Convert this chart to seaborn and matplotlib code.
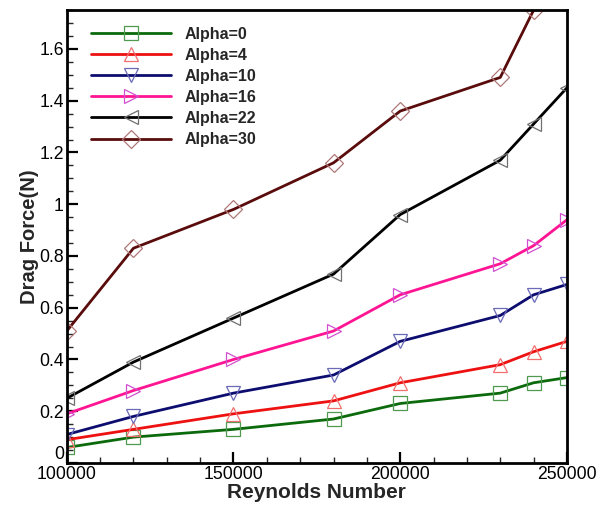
import numpy as np
import pandas as pd
import matplotlib
matplotlib.use("Agg")
import matplotlib.pyplot as plt
from matplotlib.lines import Line2D
from matplotlib.ticker import MultipleLocator, FormatStrFormatter
import seaborn as sns

reynolds = [100000, 120000, 150000, 180000, 200000, 230000, 240000, 250000]
alpha0 = [0.06, 0.10, 0.13, 0.17, 0.23, 0.27, 0.31, 0.33]
alpha4 = [0.09, 0.13, 0.19, 0.24, 0.31, 0.38, 0.43, 0.47]
alpha10 = [0.11, 0.18, 0.27, 0.34, 0.47, 0.57, 0.65, 0.69]
alpha16 = [0.19, 0.28, 0.40, 0.51, 0.65, 0.77, 0.84, 0.94]
alpha22 = [0.25, 0.39, 0.56, 0.73, 0.96, 1.17, 1.31, 1.45]
alpha30 = [0.51, 0.83, 0.98, 1.16, 1.36, 1.49, 1.75, np.nan]
series_names = ["Alpha=0", "Alpha=4", "Alpha=10", "Alpha=16", "Alpha=22", "Alpha=30"]
x_ticks = [100000, 150000, 200000, 250000]
y_ticks = [0, 0.2, 0.4, 0.6, 0.8, 1.0, 1.2, 1.4, 1.6]

series_vals = [alpha0, alpha4, alpha10, alpha16, alpha22, alpha30]
line_colors = ["#0b6a0b", "#ee1111", "#0d0d70", "#ff1493", "#000000", "#5a0c0c"]
marker_colors = ["#4f9a4f", "#f07070", "#6a6ab8", "#d050d0", "#707070", "#b07878"]
markers = ["s", "^", "v", ">", "<", "D"]
msizes = [10, 10, 10, 10, 10, 9]

sns.set_theme(style="white")
plt.rcParams["font.family"] = ["Liberation Sans", "DejaVu Sans"]

fig = plt.figure(figsize=(6.07, 5.08), dpi=100)
ax = fig.add_axes([0.110, 0.0886, 0.824, 0.8914])

handles = []
for name, vals, lc, mc, mk, ms in zip(series_names, series_vals, line_colors,
                                       marker_colors, markers, msizes):
    df = pd.DataFrame({"Re": reynolds, "F": vals})
    sns.lineplot(data=df, x="Re", y="F", ax=ax, color=lc, linewidth=2.0,
                 marker=mk, markersize=ms, markerfacecolor="none",
                 markeredgecolor=mc, markeredgewidth=0.9, clip_on=True)
    handles.append(Line2D([0], [0], color=lc, linewidth=2.0, marker=mk,
                          markersize=ms, markerfacecolor="none",
                          markeredgecolor=mc, markeredgewidth=0.9))

ax.set_xlim(100000, 250000)
ax.set_ylim(0, 1.75)
ax.set_xticks(x_ticks)
ax.set_yticks(y_ticks)
ax.xaxis.set_minor_locator(MultipleLocator(10000))
ax.yaxis.set_minor_locator(MultipleLocator(0.05))
ax.yaxis.set_major_formatter(FormatStrFormatter("%g"))
ax.set_xticklabels([str(v) for v in x_ticks])
ax.tick_params(which="major", direction="in", length=8, width=1.6,
               labelsize=12.7, colors="black", pad=2,
               top=False, right=False)
ax.tick_params(which="minor", direction="in", length=4, width=1.0,
               top=False, right=False)
ax.tick_params(axis="x", which="both", bottom=True)
ax.tick_params(axis="y", which="both", left=True)
for s in ax.spines.values():
    s.set_linewidth(2.0)
    s.set_color("black")

ax.set_xlabel("Reynolds Number", fontsize=15, fontweight="bold", labelpad=0)
ax.set_ylabel("Drag Force(N)", fontsize=14.5, fontweight="bold", labelpad=0)

fig.canvas.draw()
ylabels = ax.get_yticklabels()
ylabels[0].set_verticalalignment("bottom")

leg = ax.legend(handles, series_names, loc="upper left", frameon=False,
                handlelength=5.0, handletextpad=0.85, labelspacing=0.38,
                prop={"weight": "bold", "size": 11.5},
                bbox_to_anchor=(0.02, 0.995))

fig.savefig("out.png", dpi=100)
